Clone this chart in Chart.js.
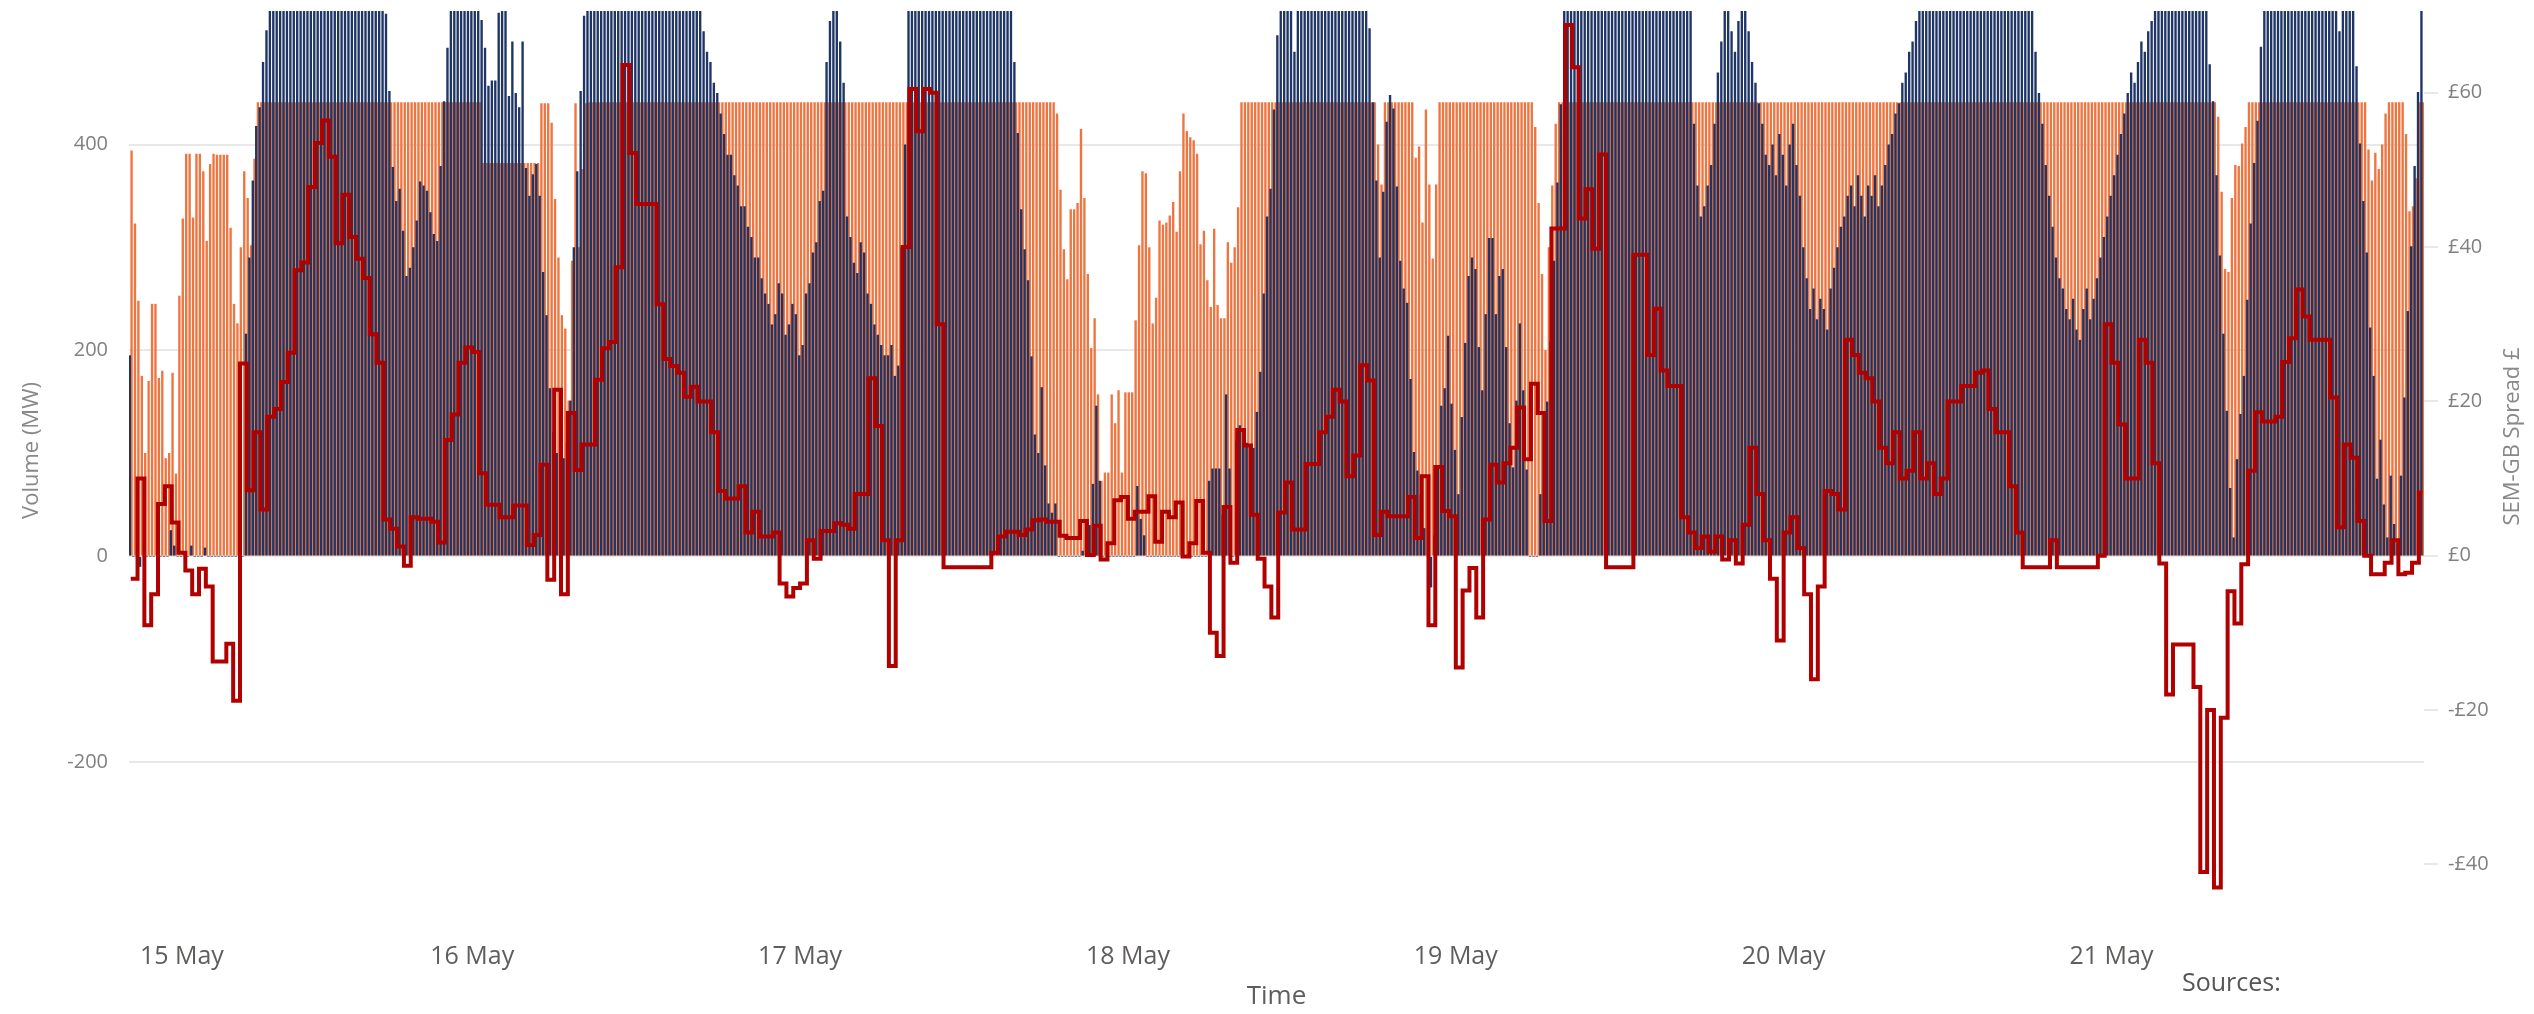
<!DOCTYPE html>
<html>
<head>
<meta charset="utf-8">
<script src="https://cdn.jsdelivr.net/npm/chart.js@4"></script>
<style>
  html, body { margin: 0; padding: 0; background: #fff; }
  #wrap { width: 2534px; height: 1014px; }
</style>
</head>
<body>
<div id="wrap"><canvas id="myChart" width="2534" height="1014"></canvas></div>
<script>
// quarter-hour slots, the first one starts 14 May 23:00, so midnight is slot 4
const dayLabels = ["\u2003\u2003\u200315 May", "16 May", "17 May", "18 May", "19 May", "20 May", "21 May"];
const firstMidnight = 4;
const slotsPerDay = 96;

// volume (MW), navy series, one value per 15 min
const navyMW = [
  195,0,0,-10,0,0,0,0,0,0,0,0,25,10,0,0,0,0,10,0,0,0,8,0,0,0,0,0,0,0,0,0,0,0,216,290,365,418,436,480,511,530,
  530,530,530,530,530,530,530,530,530,530,530,530,530,530,530,530,530,530,530,530,530,530,530,530,530,530,530,530,530,530,530,530,
  530,527,452,378,345,357,316,272,280,300,326,364,360,355,334,313,306,379,442,494,530,530,

  530,530,530,530,530,530,530,521,494,457,462,462,528,530,530,447,500,450,436,500,377,350,371,381,350,276,234,163,120,100,95,95,110,151,300,374,452,525,
  530,530,530,530,530,530,530,530,530,530,530,530,530,530,530,530,530,530,530,530,530,530,530,530,530,530,530,530,530,530,530,530,530,530,
  510,490,480,460,450,430,410,390,390,370,360,340,340,320,310,290,290,270,255,245,225,235,265,255,

  215,225,245,235,195,205,255,265,295,305,345,355,480,520,530,530,500,460,330,310,285,275,305,295,255,245,225,215,205,195,195,205,175,185,300,400,
  530,530,530,530,530,530,530,530,530,530,530,530,530,530,530,530,530,530,530,530,530,530,530,530,530,530,530,530,530,530,
  530,480,411,337,298,268,194,118,100,164,88,51,42,51,0,0,0,0,0,0,0,5,0,30,70,146,73,0,0,0,

  0,0,0,0,0,0,0,68,36,20,0,0,0,0,0,0,0,0,0,0,0,0,0,0,0,0,0,0,
  73,85,85,85,40,157,85,0,112,127,110,110,105,105,140,179,255,330,357,434,506,530,530,530,530,490,
  530,530,530,530,530,530,530,530,530,530,530,530,530,530,530,530,530,530,530,530,
  530,513,441,365,290,354,422,448,435,359,287,260,246,172,101,83,60,27,0,-30,20,85,

  146,163,214,148,103,60,135,207,272,290,279,203,161,235,309,309,235,272,279,203,129,86,151,226,161,84,0,0,0,60,137,150,209,287,363,439,
  530,530,530,530,530,530,530,530,530,530,530,530,530,530,530,530,530,530,530,530,530,530,530,530,530,530,530,530,530,530,530,530,530,530,530,530,530,530,
  420,360,330,340,360,380,420,470,500,530,530,510,490,520,530,530,510,480,460,440,420,390,

  380,400,370,410,390,360,400,420,380,350,300,270,240,260,230,250,240,220,260,280,300,320,
  330,350,360,340,370,350,330,360,350,370,340,360,380,400,410,430,440,460,470,490,500,520,
  530,530,530,530,530,530,530,530,530,530,530,530,530,530,530,530,530,530,530,530,530,530,530,530,530,530,530,530,530,530,530,530,530,530,
  490,450,420,380,350,320,290,270,260,240,230,250,220,210,240,260,230,250,

  270,290,310,330,350,370,390,410,430,450,470,460,480,500,490,510,520,530,
  530,530,530,530,530,530,530,530,530,530,530,530,530,530,530,
  478,442,370,292,216,141,66,18,94,138,175,249,323,382,423,495,
  530,530,530,530,530,530,530,530,530,530,530,530,530,530,530,530,530,530,530,530,530,530,510,530,530,530,530,
  476,401,345,295,222,175,75,113,50,18,78,31,12,78,154,238,301,379,451,530
];

// volume (MW), orange series, one value per 15 min
const orangeMW = [
  394,323,248,175,100,170,245,245,173,180,95,100,178,80,253,328,391,391,329,391,391,374,306,381,391,390,390,390,390,319,245,226,300,374,348,302,386,
  441,441,441,441,441,441,441,441,441,441,441,441,441,441,441,441,441,441,441,441,441,441,441,441,441,441,441,441,441,441,
  441,441,441,441,441,441,441,441,441,441,441,441,441,441,441,441,441,441,441,441,441,441,441,441,441,441,441,441,441,

  441,441,441,441,441,441,441,382,382,382,382,382,382,382,382,382,382,382,382,382,382,382,382,382,
  440,440,440,421,347,290,234,221,151,287,440,300,376,440,
  441,441,441,441,441,441,441,441,441,441,441,441,441,441,441,441,441,441,441,441,441,441,441,441,441,441,441,441,441,
  441,441,441,441,441,441,441,441,441,441,441,441,441,441,441,441,441,441,441,441,441,441,441,441,441,441,441,441,441,

  441,441,441,441,441,441,441,441,441,441,441,441,441,441,441,441,441,441,441,441,441,441,441,441,441,441,441,441,441,441,
  441,441,441,441,441,441,441,441,441,441,441,441,441,441,441,441,441,441,441,441,441,441,441,441,441,441,441,441,441,441,
  441,441,441,441,441,441,441,441,441,441,441,441,441,441,441,441,441,441,441,
  430,356,298,269,337,337,343,415,348,274,202,231,157,73,81,81,157,

  129,161,81,159,159,159,229,302,374,372,300,226,251,326,322,324,331,344,315,374,430,413,407,404,391,303,316,268,242,318,244,231,231,305,285,300,339,
  441,441,441,441,441,441,441,441,441,441,441,441,441,441,441,441,441,441,441,441,441,441,441,441,441,441,441,441,441,441,441,441,441,441,441,441,441,441,441,441,
  400,361,441,441,441,441,441,441,441,441,441,387,398,324,434,361,289,361,441,

  441,441,441,441,441,441,441,441,441,441,441,441,441,441,441,441,441,441,441,441,441,441,441,441,441,441,441,
  417,343,274,200,300,360,420,
  441,441,441,441,441,441,441,441,441,441,441,441,441,441,441,441,441,441,441,441,441,441,441,441,441,441,441,441,441,441,441,
  441,441,441,441,441,441,441,441,441,441,441,441,441,441,441,441,441,441,441,441,441,441,441,441,441,441,441,441,441,441,441,

  441,441,441,441,441,441,441,441,441,441,441,441,441,441,441,441,441,441,441,441,441,441,441,441,441,441,441,441,441,441,441,441,441,441,441,441,441,441,441,441,441,441,441,441,441,441,441,441,
  441,441,441,441,441,441,441,441,441,441,441,441,441,441,441,441,441,441,441,441,441,441,441,441,441,441,441,441,441,441,441,441,441,441,441,441,441,441,441,441,441,441,441,441,441,441,441,441,

  441,441,441,441,441,441,441,441,441,441,441,441,441,441,441,441,441,441,441,441,441,441,441,441,441,441,441,441,441,441,441,441,441,441,441,
  427,354,279,276,348,380,379,401,417,
  441,441,441,441,441,441,441,441,441,441,441,441,441,441,441,441,441,441,441,441,441,441,441,441,441,441,441,441,441,441,441,441,441,441,441,
  395,365,392,376,400,430,441,441,441,441,441,410,335,340,367,441,441
];

// SEM-GB spread (GBP), one value per half hour
const spreadGBP = [
  -3,10,-9,-5,6.7,9,4.3,0.4,-1.9,-5,-1.7,-4,-13.7,-13.7,-11.4,-18.8,24.9,8.5,16,6,18,19,22.5,26.3,37,38,47.8,53.5,56.4,51.7,40.5,46.8,41.3,38.5,36,28.7,25,4.7,3.5,1.2,-1.3,5,4.8,4.8,4.4,1.7,15,18.3,
  25,27,26.4,10.7,6.6,6.6,5,5,6.5,6.5,1.4,2.7,11.8,-3.1,21.5,-5,18.5,11.1,14.4,14.4,22.8,26.9,27.7,37.4,63.6,52.2,45.6,45.6,45.6,32.6,25.5,24.6,23.7,20.6,21.9,20,20,16,8.4,7.4,7.4,9,3,5.7,2.5,2.5,3,-3.6,
  -5.3,-4.2,-3.6,2,-0.4,3.2,3.2,4.2,4,3.5,8,8,23,16.8,2,-14.3,2,40,60.5,55,60.5,60,30,-1.5,-1.5,-1.5,-1.5,-1.5,-1.5,-1.5,0.4,2.5,3.1,3.1,2.7,3.4,4.6,4.7,4.4,4.4,2.6,2.3,2.3,4.5,0.1,3.9,-0.5,1.6,
  7.2,7.6,4.8,5.7,5.7,7.7,1.8,5.7,5,6.9,-0.1,1.6,7.1,0.4,-10,-13,6.3,-0.9,16.3,14.3,5.3,-0.4,-4,-8,5.6,9.5,3.4,3.4,11.9,11.9,16,18,21.5,20,10.3,13,24.7,22.7,2.7,5.7,5.1,5.1,5.1,7.6,2.3,10.3,-9,11.5,
  5.8,5.1,-14.5,-4.5,-1.6,-8,4.7,11.8,9.5,12,14,19.2,12.5,22.3,18.5,4.5,42.4,42.4,68.8,63.3,43.7,47.5,39.8,52,-1.5,-1.5,-1.5,-1.5,39,39,26,32,24,22,22,5,3,1,2.5,0.5,2.5,-0.5,2,-1,4,14,8,2,
  -3,-11,3,5,1,-5,-16,-4,8.4,8,6,28,26,23.7,23,20,14,12,16,10,11,16,10,12,8,10,20,20,22,22,23.7,24,19,16,16,9,3,-1.5,-1.5,-1.5,-1.5,2,-1.5,-1.5,-1.5,-1.5,-1.5,-1.5,
  0,30,25,17,10,10,28,25,12,-1,-18,-11.5,-11.5,-11.5,-17,-41,-20,-43,-21,-4.6,-8.8,-1.1,11,18.6,17.4,17.4,18,25.1,28.2,34.5,31,28,28,28,20.5,3.7,14.4,12.7,4.5,0,-2.4,-2.4,-0.9,2,-2.4,-2.2,-0.9,8.2
];

const slotLabels = navyMW.map((_, i) => {
  const k = i - firstMidnight;
  return k >= 0 && k % slotsPerDay === 0 ? dayLabels[k / slotsPerDay] : "";
});

// each half-hour spread value sits on every second quarter slot; gaps are spanned by the step line
const spreadOnSlots = navyMW.map((_, i) => (i % 2 === 0 ? spreadGBP[i / 2] : null));
spreadOnSlots[spreadOnSlots.length - 1] = spreadGBP[spreadGBP.length - 1];

const FONT = '"Segoe UI", "Open Sans", sans-serif';
Chart.defaults.font.family = FONT;

const axisTitles = {
  id: "axisTitles",
  afterDraw(chart) {
    const { ctx, chartArea } = chart;
    const midY = (chartArea.top + chartArea.bottom) / 2;
    ctx.save();
    ctx.textAlign = "center";
    ctx.textBaseline = "middle";
    ctx.fillStyle = "#8a8886";
    ctx.font = "22px " + FONT;
    ctx.save();
    ctx.translate(32, midY - 8);
    ctx.rotate(-Math.PI / 2);
    ctx.fillText("Volume (MW)", 0, 0);
    ctx.restore();
    ctx.save();
    ctx.translate(2513, midY - 22);
    ctx.rotate(-Math.PI / 2);
    ctx.fillText("SEM-GB Spread £", 0, 0);
    ctx.restore();
    ctx.fillStyle = "#605e5c";
    ctx.font = "26px " + FONT;
    ctx.fillText("Time", (chartArea.left + chartArea.right) / 2, 997);
    ctx.textAlign = "left";
    ctx.fillStyle = "#555";
    ctx.font = "25px " + FONT;
    ctx.fillText("Sources:", 2182, 984);
    ctx.restore();
  }
};

const ctx = document.getElementById("myChart").getContext("2d");
const myChart = new Chart(ctx, {
  type: "bar",
  data: {
    labels: slotLabels,
    datasets: [
      {
        type: "line",
        label: "SEM-GB Spread",
        data: spreadOnSlots,
        yAxisID: "y1",
        stepped: true,
        spanGaps: true,
        borderColor: "#b00000",
        borderWidth: 4,
        borderJoinStyle: "miter",
        pointRadius: 0,
        fill: false,
        order: 0,
      },
      {
        label: "Orange flow",
        data: orangeMW,
        backgroundColor: "#ee7440",
        borderWidth: 0,
        barPercentage: 1,
        categoryPercentage: 1,
        yAxisID: "y",
        order: 2,
      },
      {
        label: "Navy flow",
        data: navyMW,
        backgroundColor: "#1f3566",
        borderWidth: 0,
        barPercentage: 1,
        categoryPercentage: 1,
        yAxisID: "y",
        order: 1,
      },
    ],
  },
  options: {
    responsive: false,
    animation: false,
    layout: { padding: { top: 11, left: 0, right: 0, bottom: 0 } },
    plugins: {
      legend: { display: false },
      tooltip: { enabled: false },
    },
    scales: {
      x: {
        type: "category",
        offset: true,
        grid: { display: false, drawTicks: false },
        border: { display: false },
        ticks: {
          autoSkip: false,
          maxRotation: 0,
          minRotation: 0,
          padding: 36,
          color: "#605e5c",
          font: { size: 25 },
        },
        afterFit(scale) { scale.height = 108; scale.paddingLeft = 0; scale.paddingRight = 0; },
      },
      y: {
        position: "left",
        min: -340,
        max: 530,
        ticks: { stepSize: 200, includeBounds: false, color: "#808080", font: { size: 20 }, padding: 21 },
        grid: { color: "#e8e8e8", lineWidth: 2, drawTicks: false },
        border: { display: false },
        afterFit(scale) { scale.width = 129; scale.paddingTop = 0; scale.paddingBottom = 0; },
      },
      y1: {
        position: "right",
        min: -45.4,
        max: 70.6,
        ticks: {
          stepSize: 20,
          includeBounds: false,
          color: "#808080",
          font: { size: 20 },
          padding: 10,
          callback: (v) => (v < 0 ? "-£" + Math.abs(v) : "£" + v),
        },
        grid: { drawOnChartArea: false, tickLength: 14, color: "#e8e8e8", lineWidth: 2 },
        border: { display: false },
        afterFit(scale) { scale.width = 110; scale.paddingTop = 0; scale.paddingBottom = 0; },
      },
    },
  },
  plugins: [axisTitles],
});
</script>
</body>
</html>
